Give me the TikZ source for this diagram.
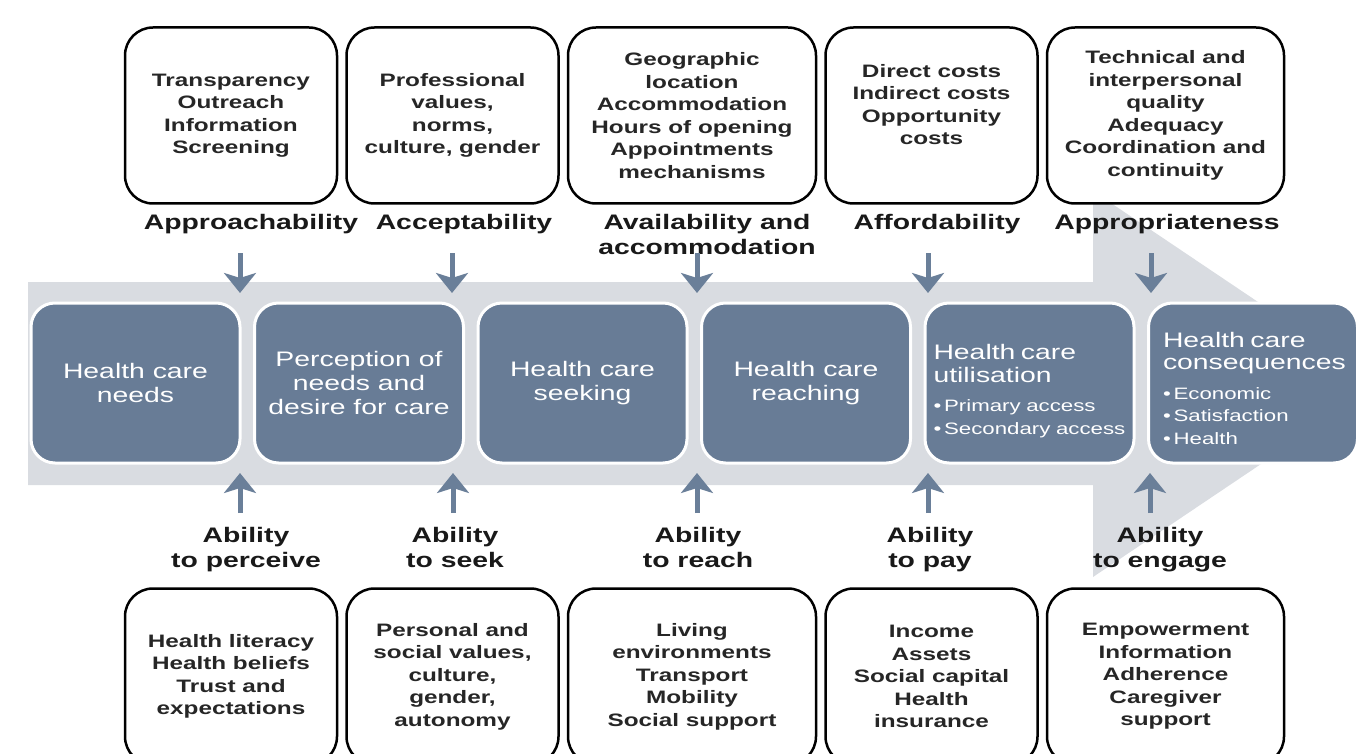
\documentclass[tikz,border=0pt]{standalone}
\usepackage{fontspec}
\newfontfamily\widesans[FakeStretch=1.35]{Liberation Sans}
\usetikzlibrary{positioning,arrows.meta}
\definecolor{stageblue}{RGB}{104,124,150}
\definecolor{bandgrey}{RGB}{217,220,225}
\definecolor{pointblue}{RGB}{106,127,153}

\begin{document}
\begin{tikzpicture}[x=1pt, y=-1pt,
  stage/.style={draw=white, line width=3pt, rounded corners=24pt, fill=stageblue,
                text=white, align=center, minimum width=209pt, minimum height=160pt,
                font=\widesans\fontsize{21}{24}\selectfont},
  stagelist/.style={stage, align=left, font=\widesans\fontsize{16.5}{22.5}\selectfont},
  info/.style={draw=black, line width=2.5pt, rounded corners=28pt, fill=white,
               align=center, minimum height=176pt, text=black!85,
               font=\widesans\bfseries\fontsize{18}{22.5}\selectfont},
  dim/.style={align=center, inner sep=0pt, anchor=north, text=black!90,
              font=\widesans\bfseries\fontsize{21}{25}\selectfont},
  pointer/.style={draw=pointblue, line width=5pt,
                  -{Stealth[length=20pt, width=32pt, inset=5pt]}},
  node distance=7pt]

\useasboundingbox (0,0) rectangle (1357,754);
\clip (0,0) rectangle (1357,754);

% big background arrow
\fill[bandgrey] (28,282) -- (1093,282) -- (1093,191) -- (1380,384)
  -- (1093,577) -- (1093,485) -- (28,485) -- cycle;

% stages of access
\node[stage] (needs) at (135.5,383) {Health care\\needs};
\node[stage, right=11.5pt of needs] (perception) {Perception of\\needs and\\desire for care};
\node[stage, right=11.5pt of perception] (seeking) {Health care\\seeking};
\node[stage, right=11.5pt of seeking] (reaching) {Health care\\reaching};
\node[stagelist, text width=192pt, right=11.5pt of reaching] (utilisation)
  {\fontsize{21}{22.5}\selectfont\rule{0pt}{31pt}Health care\\utilisation\\[7pt]
   \fontsize{16.5}{22.5}\selectfont \textbullet\,Primary access\\\textbullet\,Secondary access};
\node[stagelist, text width=180pt, right=11.5pt of utilisation] (consequences)
  {\fontsize{21}{22.5}\selectfont\rule{0pt}{26pt}Health care\\consequences\\[7pt]
   \fontsize{16.5}{22.5}\selectfont \textbullet\,Economic\\\textbullet\,Satisfaction\\\textbullet\,Health};

% service side
\node[info, minimum width=212pt] (approachinfo) at (231,115.5)
  {Transparency\\Outreach\\Information\\Screening};
\node[info, minimum width=212pt, right=of approachinfo] (acceptinfo)
  {Professional\\values,\\norms,\\culture, gender};
\node[info, minimum width=248pt, right=of acceptinfo] (availinfo)
  {Geographic\\location\\Accommodation\\Hours of opening\\Appointments\\mechanisms};
\node[info, minimum width=212pt, right=of availinfo] (affordinfo)
  {Direct costs\\Indirect costs\\Opportunity\\costs\\\mbox{}};
\node[info, minimum width=237pt, right=of affordinfo] (appropinfo)
  {Technical and\\interpersonal\\quality\\Adequacy\\Coordination and\\continuity};

\node[dim] (approach) at (251,214.5) {Approachability};
\node[dim] (accept) at (464,214.5) {Acceptability};
\node[dim] (avail) at (707,214.5) {Availability and\\accommodation};
\node[dim] (afford) at (937,214.5) {Affordability};
\node[dim] (approp) at (1167,214.5) {Appropriateness};

% population side
\node[info, minimum width=212pt] (perceiveinfo) at (231,676.5)
  {Health literacy\\Health beliefs\\Trust and\\expectations};
\node[info, minimum width=212pt, right=of perceiveinfo] (seekinfo)
  {Personal and\\social values,\\culture,\\gender,\\autonomy};
\node[info, minimum width=248pt, right=of seekinfo] (reachinfo)
  {Living\\environments\\Transport\\Mobility\\Social support};
\node[info, minimum width=212pt, right=of reachinfo] (payinfo)
  {Income\\Assets\\Social capital\\Health\\insurance};
\node[info, minimum width=237pt, right=of payinfo] (engageinfo)
  {Empowerment\\Information\\Adherence\\Caregiver\\support};

\node[dim] (perceive) at (246,526.7) {Ability\\to perceive};
\node[dim] (seek) at (455,526.7) {Ability\\to seek};
\node[dim] (reach) at (698,526.7) {Ability\\to reach};
\node[dim] (pay) at (930,526.7) {Ability\\to pay};
\node[dim] (engage) at (1160,526.7) {Ability\\to engage};

% arrows into the band
\coordinate (down1) at (240,293);
\coordinate (down2) at (452,293);
\coordinate (down3) at (697,293);
\coordinate (down4) at (928,293);
\coordinate (down5) at (1151,293);
\coordinate (up1) at (240,473);
\coordinate (up2) at (453,473);
\coordinate (up3) at (697,473);
\coordinate (up4) at (928,473);
\coordinate (up5) at (1150,473);

\draw[pointer] ([yshift=40pt]down1) -- (down1);
\draw[pointer] ([yshift=40pt]down2) -- (down2);
\draw[pointer] ([yshift=40pt]down3) -- (down3);
\draw[pointer] ([yshift=40pt]down4) -- (down4);
\draw[pointer] ([yshift=40pt]down5) -- (down5);
\draw[pointer] ([yshift=-40pt]up1) -- (up1);
\draw[pointer] ([yshift=-40pt]up2) -- (up2);
\draw[pointer] ([yshift=-40pt]up3) -- (up3);
\draw[pointer] ([yshift=-40pt]up4) -- (up4);
\draw[pointer] ([yshift=-40pt]up5) -- (up5);
\end{tikzpicture}
\end{document}
